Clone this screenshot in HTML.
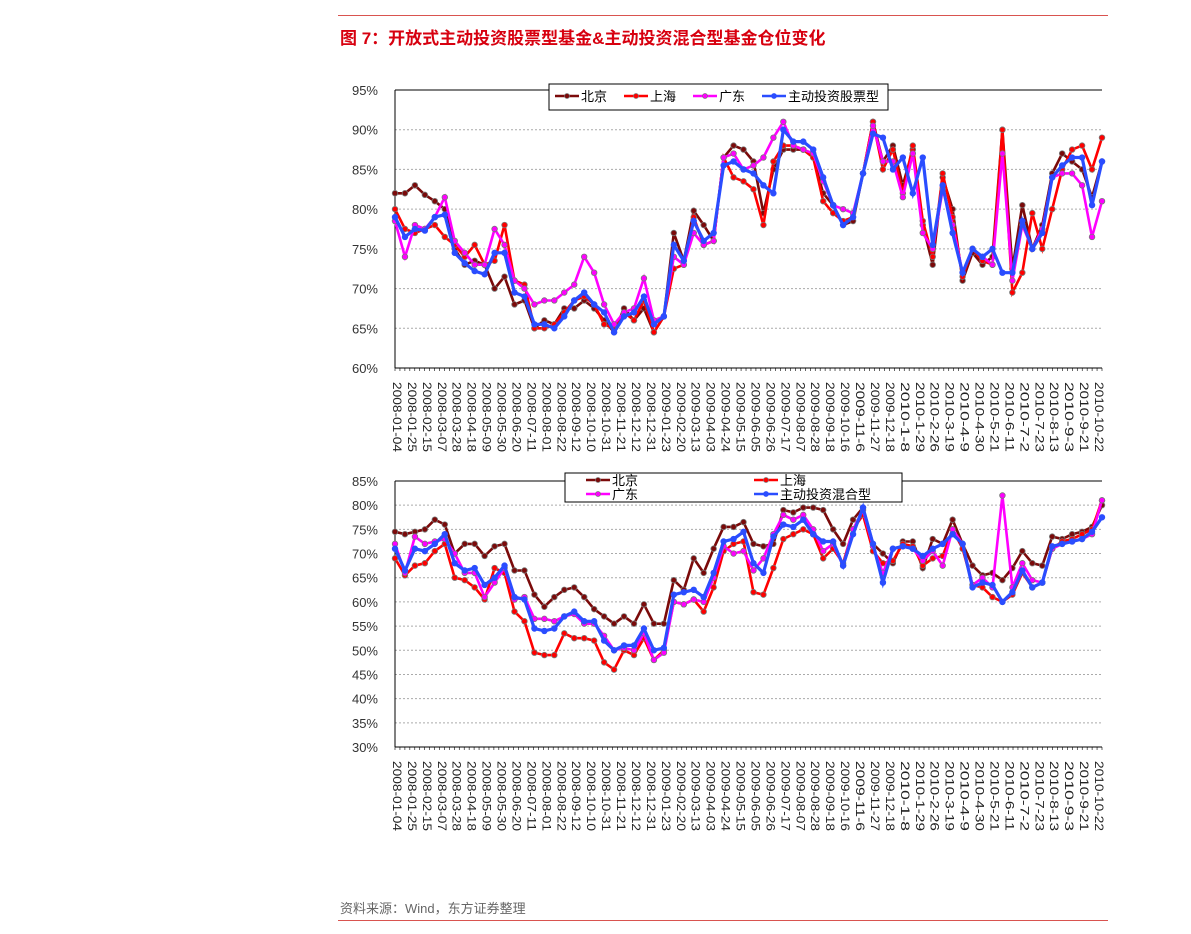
<!DOCTYPE html>
<html><head><meta charset="utf-8">
<style>
body{margin:0;background:#fff;width:1191px;height:934px;overflow:hidden;font-family:"Liberation Sans","Noto Sans CJK SC",sans-serif;}
#root{position:relative;width:1191px;height:934px;}
.title{position:absolute;left:340px;top:24px;font-size:17px;font-weight:bold;color:#d7000f;}
.src{position:absolute;left:340px;top:898px;font-size:13px;color:#666;}
.hline{position:absolute;left:338px;width:770px;height:1px;background:#d9534f;}
svg{position:absolute;left:0;top:0;}
</style></head>
<body><div id="root">
<div class="hline" style="top:15px"></div>
<div class="title">图 7：开放式主动投资股票型基金&amp;主动投资混合型基金仓位变化</div>
<div class="src">资料来源：Wind，东方证券整理</div>
<div class="hline" style="top:920px"></div>
<svg id="svg" width="1191" height="934"></svg>
</div>
<script>
const dateLabels=["2008-01-04","2008-01-25","2008-02-15","2008-03-07","2008-03-28","2008-04-18","2008-05-09","2008-05-30","2008-06-20","2008-07-11","2008-08-01","2008-08-22","2008-09-12","2008-10-10","2008-10-31","2008-11-21","2008-12-12","2008-12-31","2009-01-23","2009-02-20","2009-03-13","2009-04-03","2009-04-24","2009-05-15","2009-06-05","2009-06-26","2009-07-17","2009-08-07","2009-08-28","2009-09-18","2009-10-16","2009-11-6","2009-11-27","2009-12-18","2010-1-8","2010-1-29","2010-2-26","2010-3-19","2010-4-9","2010-4-30","2010-5-21","2010-6-11","2010-7-2","2010-7-23","2010-8-13","2010-9-3","2010-9-21","2010-10-22"];
const ticks1=[60,65,70,75,80,85,90,95];
const ticks2=[30,35,40,45,50,55,60,65,70,75,80,85];
const names1=["北京","上海","广东","主动投资股票型"];
const names2=["北京","上海","广东","主动投资混合型"];
const bj1=[82,82,83,81.8,81,80,75,73,73.5,73,70,71.5,68,68.5,65,66,65.5,67.5,67.5,68.5,67.5,66,64.5,67.5,66,67.5,64.5,66.5,77,73.5,79.8,78,76,86.5,88,87.5,86,79.5,85,87.5,87.5,87.5,86.5,82,80.5,78,78.5,84.5,91,86,88,83,87.5,78,73,84,80,71,74.5,73,74,90,72.5,80.5,75,78,84.5,87,86,85,81.5,86];
const sh1=[80,77.5,77,77.5,78,76.5,75.5,74,75.5,73,73.5,78,71,70.5,65,65,65.5,67,68.5,69,68,65.5,65,67,66,68.5,64.5,66.5,72.5,73,79,75.5,76,86.5,84,83.5,82.5,78,86,88,88,87.5,86.5,81,79.5,78.5,79,84.5,91,85,87.5,82,88,78.5,74,84.5,79,71.5,75,73.5,73,90,69.5,72,79.5,75,80,85,87.5,88,85,89];
const gd1=[78.5,74,78,77.5,79,81.5,76,74.5,73,73,77.5,75.5,71,70,68,68.5,68.5,69.5,70.5,74,72,68,65.5,67,67.5,71.3,66,66.5,74,73,77,75.5,76,86.5,87,85,85.5,86.5,89,91,88,87.5,87,83.5,80.5,80,79.5,84.5,90.5,86,86,81.5,87,77,75,82.5,78,72,75,74,73,87,71,78,75,77.5,84,84.5,84.5,83,76.5,81];
const zd1=[79,76.5,77.5,77.3,79,79.3,74.5,73.2,72.2,71.8,74.5,74.5,69.5,69,65.5,65.5,65,66.5,68.5,69.5,68,67,64.5,66.5,67,69,65.5,66.5,75.5,73.5,78.5,76,77,85.5,86,85,84.5,83,82,90,88.5,88.5,87.5,84,80.5,78,79,84.5,89.5,89,85,86.5,82,86.5,75.5,83,77,72,75,74,75,72,72,78.5,75,77,84,85.5,86.5,86.5,80.5,86];
const bj2=[74.5,74,74.5,75,77,76,70,72,72,69.5,71.5,72,66.5,66.5,61.5,59,61,62.5,63,61,58.5,57,55.5,57,55.5,59.5,55.5,55.5,64.5,62.5,69,66,71,75.5,75.5,76.5,72,71.5,72,79,78.5,79.5,79.5,79,75,72,77,79.5,72,70,68,72.5,72.5,67,73,72,77,72,67.5,65.5,66,64.5,67,70.5,68,67.5,73.5,73,74,74.5,75.5,80];
const sh2=[69,65.5,67.5,68,70.5,72,65,64.5,63,60.5,67,66,58,56,49.5,49,49,53.5,52.5,52.5,52,47.5,46,50,49,52.5,48,50,60,59.5,60.5,58,63,70.5,72,72.5,62,61.5,67,73,74,75,74,69,71,68,75,78,70.5,68,68.5,72,71.5,67.5,69,69.5,75,71,63.5,63,61,60,61.5,66,63,64,71,72.5,73,74,75,81];
const gd2=[72,66,73.5,72,72.5,73,70,66,66,61,64,67,60.5,61,56.5,56.5,56,57,57.5,55.5,55.5,53,50,50.5,50,53.5,48,49.5,60,59.5,60.5,60,65,71.5,70,70.5,66.5,69,74,78,77,78,75,70.5,72,67.5,75,79,71.5,66,71,71.5,71,68.5,70.5,67.5,75,72,63.5,65,63,82,63,68,64.5,64,71,72,72.5,73,74,81];
const zd2=[71,66.5,71,70.5,72,74,68,66.5,67,63.5,65,67.5,61,60.5,54.5,54,54.5,57,58,56,56,52,50,51,51,54.5,50,50.5,61.5,62,62.5,61,66,72.5,73,74.5,68,66,73.5,76,75.5,77,74,72.5,72.5,67.5,74,79.5,72,64,71,71.5,71,69.5,71,72,74,72,63,64,63.5,60,62,66.5,63,64,71.5,72,72.5,73,74.5,77.5];

const NS='http://www.w3.org/2000/svg';
const svg=document.getElementById('svg');
function mk(tag,attrs,parent){const e=document.createElementNS(NS,tag);for(const k in attrs)e.setAttribute(k,attrs[k]);(parent||svg).appendChild(e);return e;}
const colors=['#7b0a0a','#ff0000','#ff00ff','#2a4dff'];
const X0=395,X1=1102;
function drawChart(cfg){
  const g=mk('g',{});
  
  
  const ymin=cfg.ticks[0],ymax=cfg.ticks[cfg.ticks.length-1];
  const yS=v=>cfg.yb-(v-ymin)/(ymax-ymin)*(cfg.yb-cfg.yt);
  const n=cfg.series[0].length;
  const xS=i=>X0+i*(X1-X0)/(n-1);
  cfg.ticks.forEach(t=>{
    const y=yS(t);
    if(t!==ymin&&t!==ymax){const l=mk('line',{x1:X0,x2:X1,y1:y,y2:y,stroke:'#aaa','stroke-dasharray':'2,2','stroke-width':1},g);
      }
    const tx=mk('text',{x:X0-17,y:y+5,'text-anchor':'end','font-size':13,fill:'#333'},g);
    tx.textContent=t+'%';
    
    
  });
  const ax=mk('line',{x1:X0,x2:X0,y1:cfg.yt,y2:cfg.yb,stroke:'#000','stroke-width':1},g);
  
  const bx=mk('line',{x1:X0,x2:X1,y1:cfg.yb,y2:cfg.yb,stroke:'#000','stroke-width':1},g);
  
  const top=mk('line',{x1:X0,x2:X1,y1:cfg.yt,y2:cfg.yt,stroke:'#000','stroke-width':1},g);
  
  for(let k=0;k<144;k++){const x=X0+k*(X1-X0)/143;mk('line',{x1:x,x2:x,y1:cfg.yb,y2:cfg.yb+3,stroke:'#000','stroke-width':0.6},g);}
  cfg.series.forEach((s,si)=>{
    const pts=s.map((v,i)=>xS(i).toFixed(1)+','+yS(v).toFixed(1)).join(' ');
    const pl=mk('polyline',{points:pts,fill:'none',stroke:colors[si],'stroke-width':si===3?3.2:2.6},g);
    
    
    s.forEach((v,i)=>{
      const c=mk('circle',{cx:xS(i),cy:yS(v),r:si===3?2.8:2.8,fill:colors[si],stroke:si===3?colors[si]:'#777','stroke-width':0.8},g);
      
      
    });
  });
  dateLabels.forEach((d,i)=>{
    const x=X0+2+i*(X1-X0-5)/(dateLabels.length-1);
    const y=cfg.yb+14;
    const t=mk('text',{x:x-4,y:y,transform:`rotate(90 ${x-4} ${y})`,'font-size':12,fill:'#222',textLength:70,lengthAdjust:'spacingAndGlyphs'},g);
    t.textContent=d;
    
    
  });
  const L=cfg.legend;
  const lr=mk('rect',{x:L.x,y:L.y,width:L.w,height:L.h,fill:'#fff',stroke:'#000','stroke-width':1},g);
  
  cfg.names.forEach((nm,si)=>{
    const p=L.pos[si];
    const lg=mk('g',{},g);
    
    
    mk('line',{x1:p[0],x2:p[0]+24,y1:p[1],y2:p[1],stroke:colors[si],'stroke-width':2.4},lg);
    mk('circle',{cx:p[0]+12,cy:p[1],r:2.5,fill:colors[si],stroke:si===3?colors[si]:'#777','stroke-width':0.7},lg);
    const t=mk('text',{x:p[0]+26,y:p[1]+5,'font-size':13,fill:'#000'},lg);
    t.textContent=nm;
  });
}
drawChart({name:'stock-fund-chart',yt:90,yb:368,ticks:ticks1,series:[bj1,sh1,gd1,zd1],names:names1,
  legend:{x:549,y:84,w:339,h:26,pos:[[555,96],[624,96],[693,96],[762,96]]}});
drawChart({name:'mixed-fund-chart',yt:481,yb:747,ticks:ticks2,series:[bj2,sh2,gd2,zd2],names:names2,
  legend:{x:565,y:473,w:337,h:29,pos:[[586,480],[754,480],[586,494],[754,494]]}});
</script>
</body></html>
